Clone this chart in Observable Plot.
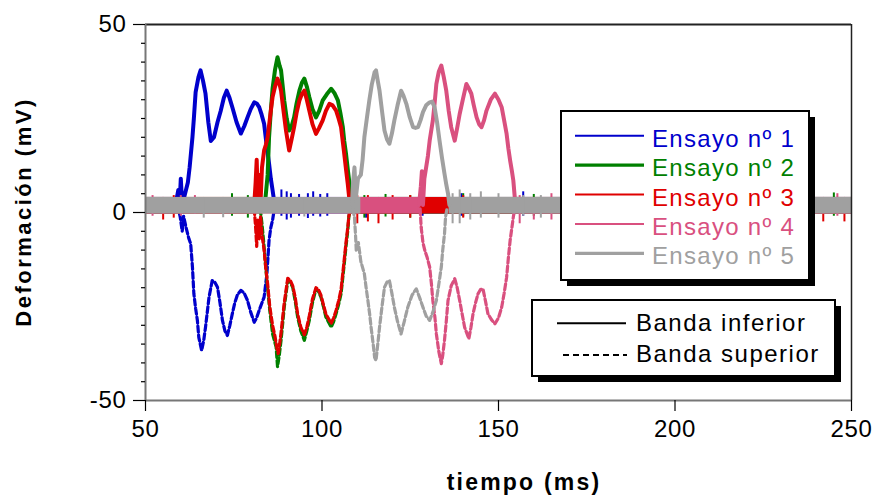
<!DOCTYPE html>
<html>
<head>
<meta charset="utf-8">
<script src="https://cdn.jsdelivr.net/npm/d3@7"></script>
<script src="https://cdn.jsdelivr.net/npm/@observablehq/plot@0.6"></script>
<style>
  html, body { margin: 0; padding: 0; background: #fff; }
  #wrap { position: relative; width: 877px; height: 498px; font-family: "Liberation Sans", Arial, sans-serif; }
  #wrap > svg { position: absolute; left: 0; top: 0; }
  #plot svg text { letter-spacing: 0.7px; }
  #overlay { pointer-events: none; }
</style>
</head>
<body>
<div id="wrap"><div id="plot"></div></div>
<script>
// ---------------- DATA ----------------
const xTicks = [50, 100, 150, 200, 250];
const yTicks = [-50, 0, 50];
const yMinorTicks = [-45, -40, -35, -30, -25, -20, -15, -10, -5, 5, 10, 15, 20, 25, 30, 35, 40, 45];

const seriesNames = ["Ensayo nº 1", "Ensayo nº 2", "Ensayo nº 3", "Ensayo nº 4", "Ensayo nº 5"];
const seriesColors = ["#0000cc", "#008000", "#e00000", "#d9507f", "#a0a0a0"];
const bandNames = ["Banda inferior", "Banda superior"];

// Banda inferior (solid) per ensayo: [tiempo ms, mV]
const inf1 = [[58.5,2],[59.3,6],[59.6,1],[60,9],[60.4,2],[61.2,5],[62,8],[62.5,12],[63.3,20],[63.7,25],[64.2,32],[65,36],[65.6,37.8],[66.3,35],[67,31.6],[67.8,24],[68.5,19],[69.4,20],[70.4,24],[71.3,27],[72.2,30.5],[73,32.4],[73.8,30.5],[74.6,28],[75.8,24],[77,21],[78,23],[78.9,25.3],[79.8,27.5],[80.8,29.3],[81.5,29],[82.2,28],[82.9,26],[83.6,23.6],[84.3,18],[85,13],[85.5,9],[86,5.9],[86.6,2]];
const inf2 = [[83.5,2],[84,4],[84.6,10],[85,20],[85.5,27],[86,33],[86.7,38],[87.4,41.3],[88,39],[88.4,37.8],[89.3,29.8],[90,25],[90.7,21.8],[91.4,23],[92.1,25.3],[92.8,29],[93.6,32.4],[94.3,34.5],[95,35.6],[95.7,33.5],[96.4,30.7],[97.3,27.5],[98.3,25.3],[99.2,27],[100.2,29.8],[101.4,31.5],[102.6,32.9],[103.5,31.8],[104.5,29.8],[105.2,26.5],[105.9,22.7],[106.3,19],[106.8,15.6],[107.3,11.5],[107.8,7.6],[108.2,4],[108.6,2]];
const inf3 = [[80.8,2],[81.2,8],[81.5,14],[81.8,4],[82.2,10],[82.6,3],[83,12],[83.6,16.5],[84.1,18],[84.6,20],[85.3,25.5],[86,30.7],[86.7,33.5],[87.4,35.6],[88,34],[88.4,32.4],[89.1,27],[89.8,21.8],[90.7,16.5],[91.4,19.5],[92.1,22.7],[92.8,26.5],[93.6,29.8],[94.3,31.5],[95,32.4],[95.7,30],[96.4,27.1],[97.3,23.5],[98.3,20.9],[99.2,22.5],[100.2,24.5],[101.1,27],[102.1,28.9],[103,28.5],[104,27.1],[104.7,25],[105.4,22.7],[106.3,15.6],[106.8,11.5],[107.3,7.6],[107.7,4],[108,2]];
const inf4 = [[127.5,2],[128,7],[128.3,11],[128.6,2],[129,9],[129.5,12],[130,15],[130.5,19.1],[131.4,24.5],[131.9,29],[132.4,34.2],[133.1,37.5],[133.8,39.1],[134.5,36],[135.2,32.4],[135.9,27],[136.6,22.7],[137.6,19.1],[138.3,22.5],[139,26.2],[140,30.5],[140.9,34.2],[141.6,33],[142.3,31.6],[143,28.5],[143.8,25.3],[144.5,23.5],[145.2,22.7],[145.9,24.5],[146.6,27.1],[147.8,30],[149,31.6],[150,30],[150.9,28],[151.6,24.5],[152.3,20.9],[152.8,17],[153.3,13.8],[153.8,11],[154.2,8.5],[154.7,3],[155,2]];
const inf5 = [[108.5,2],[108.8,8],[109.2,12],[109.6,4],[110.2,9],[111,10],[111.5,14],[112,20],[112.7,25],[113.4,29.8],[114.1,34],[114.9,37.3],[115.3,37.8],[115.8,35],[116.3,32.4],[117,27],[117.7,21.8],[118.4,19.5],[119.1,18.3],[119.8,21],[120.5,24.5],[121.4,28.5],[122.4,32.4],[123.1,31],[123.9,28.9],[124.8,25.5],[125.8,22.7],[126.5,22.5],[127.2,22.7],[127.9,24.5],[128.6,26.7],[129.5,28.5],[130.5,29.3],[131.2,29.5],[131.9,28],[132.6,24],[133.3,19.1],[134,14.5],[134.7,10.3],[135.2,7.5],[135.7,5],[136.1,2]];

// Banda superior (dashed) per ensayo: [tiempo ms, mV]
const sup1 = [[59,2],[59.8,-1],[60.4,-5],[60.8,-1],[61.5,-4],[62.3,-7],[62.8,-8.3],[63.3,-14.5],[63.7,-21.6],[64.2,-25.5],[64.7,-28.7],[65.1,-33.2],[65.9,-36.7],[66.5,-34],[67,-30.5],[68,-22.5],[68.9,-18.1],[69.6,-18.5],[70.4,-19.9],[71.1,-24],[71.8,-28.7],[72.5,-31.5],[73.2,-32.7],[73.9,-30],[74.6,-26.9],[75.3,-24],[76,-22],[77,-20.7],[78,-21.5],[78.9,-23.4],[79.8,-26.5],[80.8,-29.2],[81.5,-28],[82.2,-26],[83,-24],[83.6,-22.5],[84.4,-16.3],[85,-7.4],[85.5,-4],[86,-2],[86.5,1]];
const sup2 = [[82.5,1],[83,-3],[83.5,-8],[84,-14],[84.6,-20],[85.2,-26],[86,-32.3],[87,-35.8],[87.4,-41],[87.9,-38],[88.4,-34],[89.3,-25.2],[90.3,-18.1],[91,-18.5],[91.7,-19.9],[92.4,-23.5],[93.1,-27.8],[94,-31.5],[95,-34],[95.7,-31.5],[96.4,-28.7],[97.3,-24],[98.3,-20.3],[99,-21],[99.7,-22.5],[100.4,-25],[101.1,-27.8],[102.6,-30.5],[103.3,-29],[104,-26.9],[104.7,-24.5],[105.4,-21.6],[106.3,-13.7],[106.8,-9],[107.3,-4.8],[107.6,-1.2],[108,1]];
const sup3 = [[80.8,1],[81.2,-4],[81.5,-9],[81.8,-2],[82.2,-7],[82.6,-1],[83,-6],[83.6,-10],[84.1,-15],[84.6,-19],[85.2,-25],[86,-30],[86.7,-33],[87.2,-36],[87.6,-37.5],[88,-35],[88.4,-32],[89.3,-24],[90.3,-17.5],[91,-18],[91.7,-19.5],[92.4,-22.5],[93.1,-27],[94,-30.5],[95,-32.5],[95.7,-30.5],[96.4,-27.5],[97.3,-23],[98.3,-20],[99,-20.5],[99.7,-22],[100.4,-24.5],[101.1,-27],[102,-28.5],[102.6,-29.5],[103.3,-28],[104,-26],[104.7,-23.5],[105.4,-20.5],[106.3,-12.5],[106.8,-8],[107.3,-4],[107.6,-1],[108,1]];
const sup4 = [[127.8,1],[128.1,-4],[128.6,-8],[129.1,-10],[129.8,-12],[130.5,-14.5],[131,-19],[131.4,-23.4],[132,-28],[132.4,-32.3],[133.1,-37],[133.8,-40.2],[134.2,-38],[134.7,-34],[135.2,-29],[135.7,-23.4],[136.6,-19.5],[137.6,-17.6],[138.3,-20],[139,-23.4],[139.7,-27],[140.4,-30.5],[141.6,-33.6],[142.2,-30.5],[142.8,-26.9],[143.5,-24],[144.2,-21.6],[144.9,-20.5],[145.6,-20.3],[146.3,-23.5],[147,-26.9],[148,-28.5],[149,-29.6],[150,-28],[150.9,-25.2],[151.6,-21.5],[152.3,-17.2],[152.8,-12],[153.3,-7.4],[153.8,-4],[154.2,-1.2],[154.6,1]];
const sup5 = [[108.7,1],[109.2,-1.2],[109.5,-6],[109.7,-10],[110.3,-8],[111,-13],[112,-16.3],[112.5,-20],[113,-23.4],[113.5,-27],[113.9,-30.5],[114.5,-35],[114.9,-38.5],[115.3,-39.4],[115.8,-35],[116.3,-30.5],[117,-25],[117.7,-19.9],[118.4,-18.5],[119.1,-18.1],[119.8,-21.5],[120.5,-25.2],[121.4,-29],[122.4,-32.3],[123.3,-29],[124.3,-25.2],[125.5,-22],[126.7,-20.3],[127.6,-22.5],[128.6,-25.2],[129.5,-27.5],[130.5,-28.7],[131.4,-26.5],[132.4,-23.4],[133.1,-19],[133.8,-14.5],[134.2,-10],[134.7,-5.7],[135,-1.2],[135.4,1]];

// Baseline noise band of each ensayo: [t start, t end, mV low, mV high]
const noise1 = [[50,58.5,-0.4,4],[86.6,250,-0.4,4]];
const noise2 = [[50,83,-0.4,4],[108.5,250,-0.4,4]];
const noise3 = [[50,81,-0.4,4],[108,250,-0.4,4]];
const noise4 = [[50,127.8,-0.4,4],[155,250,-0.4,4]];
const noise5 = [[50,111,-0.4,4],[136,250,-0.4,4]];

// Noise spikes sticking out of the band: [t, mV low, mV high]
const spikes1 = [[88.5,-1,6],[90,-2,5.5],[91.2,-1.5,5],[93.5,-1,4.8],[96,-1.6,5],[97.5,-1,5.5],[99.5,-1.2,4.8],[101.5,-1,5],[112.5,-1.5,4],[128.5,-1,4.5],[139.5,-1,5],[157,-1,5.5],[225,-0.5,5]];
const spikes2 = [[74.5,-1,5],[79,-1.5,4.5],[112,-1.5,4.5],[118,-1.2,4.8],[125,-1.5,4.5],[140,-1.2,5],[160,-1,4.8],[175,-1.5,4.5],[245,-1,5.2]];
const spikes3 = [[55,-2,4],[58,-1.5,4.5],[110,-3,4.5],[113,-2.5,4.5],[116,-3,4],[120,-2,4.5],[125,-1.5,4.5],[140,-1.5,4.5],[190,-1,4],[242,-2.5,4],[248,-2.5,4]];
const spikes4 = [[52,-1,4.5],[60,-1,4.5],[64,-0.5,4.5],[156,-3,4.5],[160,-2,4],[165,-2,5],[170,-1,4],[246,-1,5]];
const spikes5 = [[66.5,-1.5,4],[72,-1.4,4],[95,-1.2,4],[137,-3,5],[139,-3,6],[142,-2,5],[145,-1.5,5.5],[150,-1.5,5],[157,-1,4.5],[162,-1.5,4.5]];

// ---------------- CHART ----------------
const infs = [inf1, inf2, inf3, inf4, inf5];
const sups = [sup1, sup2, sup3, sup4, sup5];
const noises = [noise1, noise2, noise3, noise4, noise5];
const spikess = [spikes1, spikes2, spikes3, spikes4, spikes5];

const seriesMarks = [];
for (let i = 0; i < 5; i++) {
  const c = seriesColors[i];
  seriesMarks.push(
    Plot.rect(noises[i], {x1: d => d[0], x2: d => d[1], y1: d => d[2], y2: d => d[3], fill: c}),
    Plot.ruleX(spikess[i], {x: d => d[0], y1: d => d[1], y2: d => d[2], stroke: c, strokeWidth: 2}),
    Plot.line(sups[i], {x: d => d[0], y: d => d[1], stroke: c, strokeWidth: 3.2, strokeDasharray: "6,3", curve: "linear"}),
    Plot.line(infs[i], {x: d => d[0], y: d => d[1], stroke: c, strokeWidth: 4, strokeLinejoin: "round", curve: "linear"})
  );
}

const chart = Plot.plot({
  width: 877,
  height: 498,
  marginLeft: 145,
  marginRight: 26,
  marginTop: 24,
  marginBottom: 98,
  x: {domain: [50, 250]},
  y: {domain: [-50, 50]},
  style: {fontFamily: "'Liberation Sans', Arial, sans-serif", fontSize: "24px", color: "#000", background: "#fff"},
  marks: [
    ...seriesMarks,
    Plot.ruleY([50], {stroke: "#222", strokeWidth: 2}),
    Plot.ruleX([250], {stroke: "#222", strokeWidth: 1.5}),
    Plot.ruleY([-50], {stroke: "#777", strokeWidth: 2}),
    Plot.ruleX([50], {stroke: "#777", strokeWidth: 2}),
    Plot.axisX({ticks: xTicks, tickSize: 11, tickPadding: 8, fontSize: 24, label: null, stroke: "#000", strokeWidth: 1.2, tickFormat: d => String(d)}),
    Plot.axisY({ticks: yTicks, tickSize: 12, tickPadding: 7, fontSize: 24, label: null, stroke: "#000", strokeWidth: 1.2, tickFormat: d => String(d)}),
    Plot.axisY({ticks: yMinorTicks, tickSize: 4, tickFormat: () => "", label: null, stroke: "#000", strokeWidth: 1.2})
  ]
});
document.getElementById("plot").appendChild(chart);

// ---------------- OVERLAY: legends and axis titles ----------------
const ov = d3.select("#wrap").append("svg")
  .attr("id", "overlay")
  .attr("width", 877).attr("height", 498)
  .style("font-family", "'Liberation Sans', Arial, sans-serif");

// Legend 1: ensayos
ov.append("rect").attr("x", 567).attr("y", 117).attr("width", 248).attr("height", 169).attr("fill", "#000");
ov.append("rect").attr("x", 561).attr("y", 111).attr("width", 248).attr("height", 169)
  .attr("fill", "#fff").attr("stroke", "#000").attr("stroke-width", 2);
const legLineW = [2, 3.3, 2, 2, 3.3];
seriesNames.forEach((name, i) => {
  const yc = 135.7 + i * 29.4;
  ov.append("line").attr("x1", 575).attr("x2", 644).attr("y1", yc).attr("y2", yc)
    .attr("stroke", seriesColors[i]).attr("stroke-width", legLineW[i]);
  ov.append("text").attr("x", 652).attr("y", yc + 11).attr("fill", seriesColors[i])
    .attr("font-size", 24).style("letter-spacing", "1.3px").text(name);
});

// Legend 2: bandas
ov.append("rect").attr("x", 538).attr("y", 306).attr("width", 303).attr("height", 76).attr("fill", "#000");
ov.append("rect").attr("x", 532).attr("y", 300).attr("width", 303).attr("height", 76)
  .attr("fill", "#fff").attr("stroke", "#000").attr("stroke-width", 2);
ov.append("line").attr("x1", 557).attr("x2", 626).attr("y1", 323.3).attr("y2", 323.3)
  .attr("stroke", "#000").attr("stroke-width", 2);
ov.append("line").attr("x1", 563).attr("x2", 627).attr("y1", 355).attr("y2", 355)
  .attr("stroke", "#000").attr("stroke-width", 2).attr("stroke-dasharray", "6,4");
ov.append("text").attr("x", 636).attr("y", 330.7).attr("fill", "#000").attr("font-size", 24)
  .style("letter-spacing", "1.5px").text(bandNames[0]);
ov.append("text").attr("x", 636).attr("y", 361.7).attr("fill", "#000").attr("font-size", 24)
  .style("letter-spacing", "1.5px").text(bandNames[1]);

// Axis titles
ov.append("text").attr("x", 524).attr("y", 490).attr("text-anchor", "middle")
  .attr("font-size", 23).attr("font-weight", "bold").style("letter-spacing", "2.2px").text("tiempo (ms)");
ov.append("text").attr("transform", "translate(31,212) rotate(-90)").attr("text-anchor", "middle")
  .attr("font-size", 22).attr("font-weight", "bold").style("letter-spacing", "2.5px").text("Deformación (mV)");
</script>
</body>
</html>
